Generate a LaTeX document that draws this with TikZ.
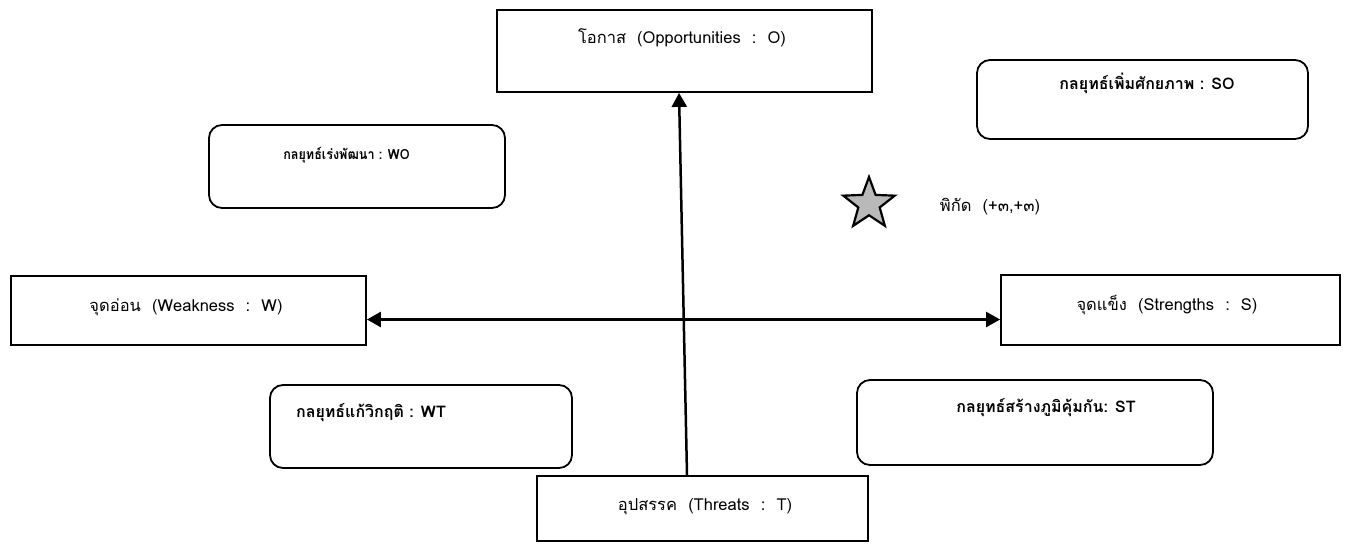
\documentclass[tikz,border=0pt]{standalone}
\usepackage{fontspec}
\newfontfamily\thai[Script=Thai]{Loma}
\usetikzlibrary{arrows.meta,shapes.geometric}
\tikzset{
  sq/.style={draw, line width=1.8pt, rectangle, inner sep=0pt},
  rd/.style={draw, line width=1.8pt, rectangle, rounded corners=13pt, inner sep=0pt},
  lbl/.style={font=\thai\fontsize{16.5}{19}\selectfont, inner sep=0pt},
  blbl/.style={font=\thai\bfseries\fontsize{16}{19}\selectfont, inner sep=0pt},
  arr/.style={line width=2.5pt, -{Triangle[length=14pt,width=15pt]}},
  darr/.style={line width=2.5pt, {Triangle[length=14pt,width=15pt]}-{Triangle[length=14pt,width=15pt]}}
}
\begin{document}
\begin{tikzpicture}[x=1pt,y=-1pt]
\useasboundingbox (0,0) rectangle (1348,544);
% boxes
\node[sq, minimum width=375pt, minimum height=82pt] (O) at (684.5,51) {};
\node[rd, minimum width=331pt, minimum height=79pt] (SO) at (1142.5,99.5) {};
\node[rd, minimum width=296pt, minimum height=83pt] (WO) at (357,166.5) {};
\node[sq, minimum width=355pt, minimum height=69pt] (W) at (188.5,310.5) {};
\node[sq, minimum width=339pt, minimum height=70pt] (S) at (1170.5,310) {};
\node[rd, minimum width=302pt, minimum height=83pt] (WT) at (421,426.5) {};
\node[rd, minimum width=356pt, minimum height=85pt] (ST) at (1035,422.5) {};
\node[sq, minimum width=331pt, minimum height=65pt] (T) at (702.5,508.5) {};
% texts
\node[lbl] (Ot) at (682,38) {โอกาส\ \ (Opportunities\ \ :\ \ O)};
\node[blbl] (SOt) at (1147,83) {กลยุทธ์เพิ่มศักยภาพ : SO};
\node[blbl, font=\thai\bfseries\fontsize{14}{17}\selectfont, xscale=0.9] (WOt) at (346.5,155) {กลยุทธ์เร่งพัฒนา : WO};
\node[lbl] (Wt) at (186,307) {จุดอ่อน\ \ (Weakness\ \ :\ \ W)};
\node[lbl] (St) at (1167,305) {จุดแข็ง\ \ (Strengths\ \ :\ \ S)};
\node[blbl] (WTt) at (371,413) {กลยุทธ์แก้วิกฤติ : WT};
\node[blbl] (STt) at (1046,408) {กลยุทธ์สร้างภูมิคุ้มกัน: ST};
\node[lbl] (Tt) at (705,507) {อุปสรรค\ \ (Threats\ \ :\ \ T)};
% star
\node[draw, line width=2.2pt, fill=gray!55, star, star points=5, star point ratio=2.4, minimum size=54pt, inner sep=0pt] (star) at (869,204) {};
\node[lbl] (pt) at (990,207) {พิกัด\ \ (+๓,+๓)};
% arrows
\draw[arr] ([xshift=-15.5pt]T.north) -- ([xshift=-5.5pt]O.south);
\draw[darr] ([yshift=-9pt]W.east) -- ([yshift=-9pt]W.east -| S.west);
\end{tikzpicture}
\end{document}
